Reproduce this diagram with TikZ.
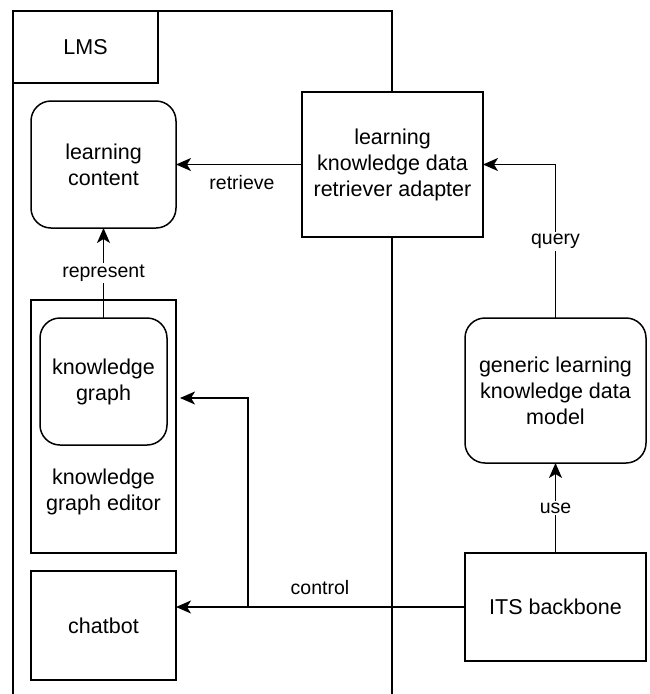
\documentclass[tikz,border=0pt]{standalone}
\usepackage{fontspec}
\setmainfont{Liberation Sans}
\usetikzlibrary{arrows.meta,calc}
\begin{document}
\begin{tikzpicture}[x=1pt,y=-1pt,
  every node/.style={inner sep=0pt,outer sep=0pt},
  box/.style={draw=black,line width=1.5pt,fill=white,align=center,
    font=\fontsize{21.5}{26}\selectfont},
  rbox/.style={box,rounded corners=20pt},
  lbl/.style={fill=white,inner sep=2pt,font=\fontsize{19.5}{23}\selectfont},
  arr/.style={line width=1.5pt,-{Stealth[length=15pt,width=13pt,inset=4pt]}},
  frame/.style={line width=1.5pt}]
\useasboundingbox (0,0) rectangle (650,694);
% LMS container
\draw[frame] (13,694) -- (13,11) -- (392,11) -- (392,694);
\node[box,minimum width=145pt,minimum height=72pt] (lms) at (85.5,47) {LMS};
% nodes
\node[rbox,minimum width=145pt,minimum height=127pt] (lc) at (103.5,164.5) {learning\\content};
\node[box,minimum width=181pt,minimum height=145pt] (ad) at (392.5,164.5) {learning\\knowledge data\\retriever adapter};
\node[box,minimum width=145pt,minimum height=253pt] (kge) at (103.5,426.5) {};
\node[align=center,font=\fontsize{21.5}{26}\selectfont] (kgetext) at (103.5,491.5) {knowledge\\graph editor};
\node[rbox,minimum width=127pt,minimum height=127pt] (kg) at (103.5,381.5) {knowledge\\graph};
\node[box,minimum width=145pt,minimum height=109pt] (cb) at (103.5,625.5) {chatbot};
\node[rbox,minimum width=181pt,minimum height=145pt] (gk) at (555.5,390.5) {generic learning\\knowledge data\\model};
\node[box,minimum width=181pt,minimum height=108pt] (its) at (555.5,607) {ITS backbone};
% connectors
\draw[arr] (ad.west) -- (lc.east);
\node[lbl] (lretrieve) at (242,183) {retrieve};
\draw[arr] (kg.north) -- node[lbl] (lrepresent) {represent} (lc.south);
\draw[arr] (gk.north) |- node[lbl,pos=0.25] (lquery) {query} (ad.east);
\draw[arr] (its.north) -- node[lbl] (luse) {use} (gk.south);
\draw[arr] (its.west) -- (its.west -| cb.east);
\coordinate (br) at (248,607);
\coordinate (kt) at (180,398);
\draw[arr] (br) |- (kt);
\node[lbl] (lcontrol) at (320,588) {control};
\end{tikzpicture}
\end{document}
